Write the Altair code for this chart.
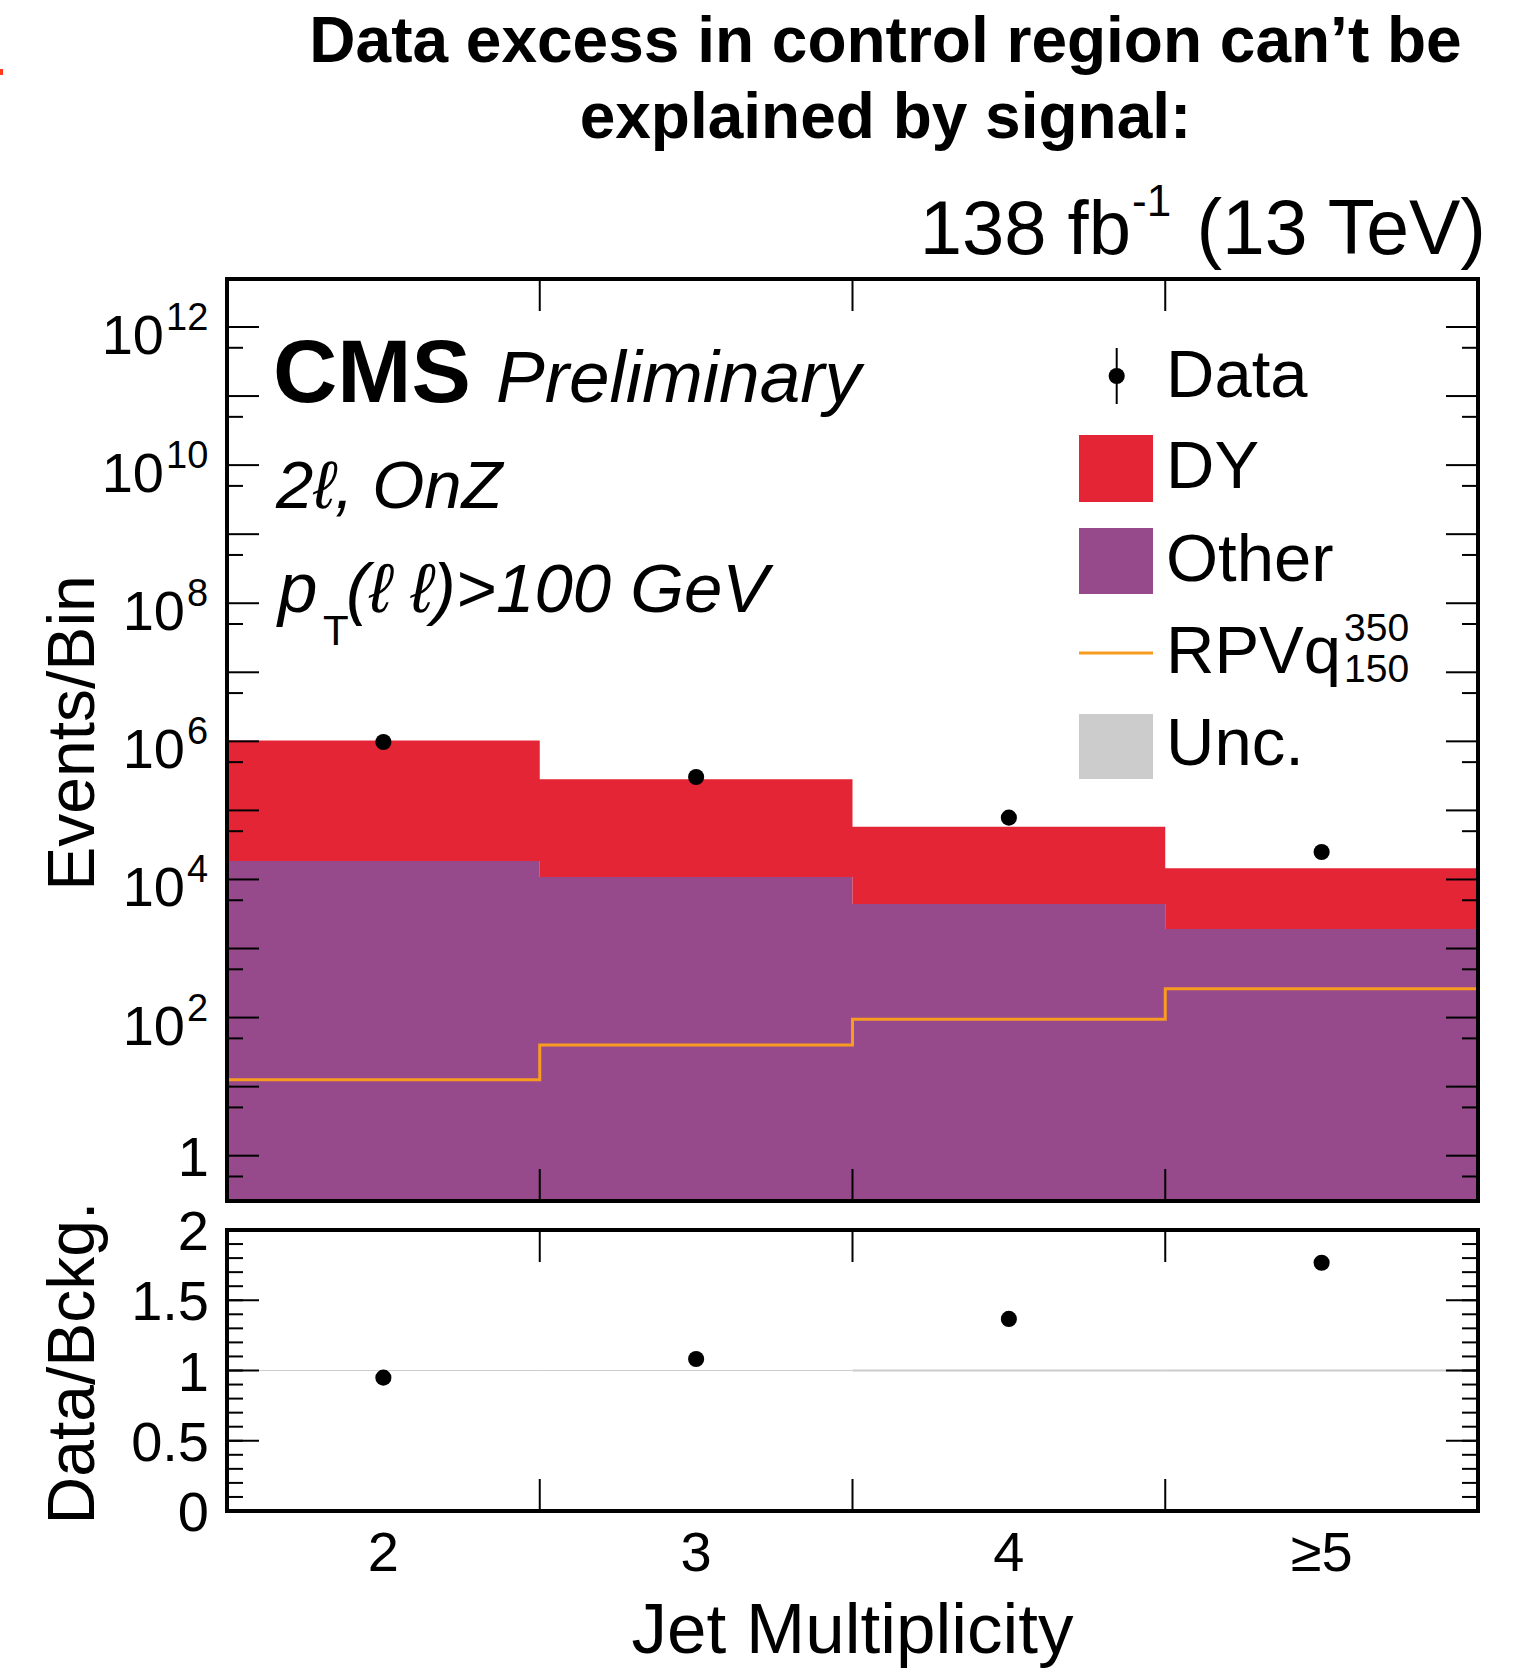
import altair as alt
import pandas as pd
import numpy as np

# ---------------------------------------------------------------
# Jet multiplicity bins
bin_lo = [1.5, 2.5, 3.5, 4.5]
bin_hi = [2.5, 3.5, 4.5, 5.5]
bin_center = [2, 3, 4, 5]
bin_label = ["2", "3", "4", "≥5"]

# Events per bin
other_yield = [1.85e4, 1.09e4, 4.41e3, 1.92e3]
dy_yield = [1.012e6, 2.71e5, 5.37e4, 1.26e4]
signal_yield = [12.6, 40.0, 94.4, 262.0]          # RPV q 350 / 150
data_yield = [9.77e5, 3.04e5, 7.85e4, 2.50e4]

# Lower panel: data / background
ratio_value = [0.949, 1.082, 1.367, 1.767]
unc_rel = [0.004, 0.004, 0.007, 0.008]

# Axis tick values
main_major = [1.0, 1e2, 1e4, 1e6, 1e8, 1e10, 1e12]
main_minor = [5 * 10.0 ** k for k in range(-1, 12)]
main_decades = [10.0 ** k for k in range(13)]
ratio_major = [0, 0.5, 1, 1.5, 2]
ratio_labels = ["0", "0.5", "1", "1.5", "2"]
ratio_minor = [round(0.1 * k, 1) for k in range(21)]
bin_edges = [2.5, 3.5, 4.5]

# Colours
C_DY = "#e42536"
C_OTHER = "#964a8b"
C_SIG = "#f89c20"
C_UNC = "#cccccc"
FONT = "Liberation Sans"

# ---------------------------------------------------------------
# Layout (pixels, relative to the plot origin)
W, H = 1251, 1232
MAIN_BOTTOM = 922
RATIO_TOP = 951
YMIN, YMAX = 10 ** -0.656, 10 ** 12.695
TICK_L, TICK_S = 32, 16

xs = alt.Scale(domain=[1.5, 5.5], nice=False, zero=False)
ys_main = alt.Scale(type="log", domain=[YMIN, YMAX], range=[MAIN_BOTTOM, 0], nice=False)
ys_ratio = alt.Scale(domain=[0, 2], range=[H, RATIO_TOP], nice=False, zero=False)

bins = pd.DataFrame({
    "lo": bin_lo, "hi": bin_hi, "center": bin_center, "label": bin_label,
    "other": other_yield, "dy": dy_yield, "data": data_yield,
    "ratio": ratio_value, "unc": unc_rel,
})
bins["total"] = bins["other"] + bins["dy"]
bins["data_lo"] = bins["data"] - np.sqrt(bins["data"])
bins["data_hi"] = bins["data"] + np.sqrt(bins["data"])
bins["r_lo"] = bins["ratio"] * (1 - 1 / np.sqrt(bins["data"]))
bins["r_hi"] = bins["ratio"] * (1 + 1 / np.sqrt(bins["data"]))
bins["u_lo"] = 1 - bins["unc"]
bins["u_hi"] = 1 + bins["unc"]

# histogram outlines as step curves (last bin repeated to close the right edge)
steps = pd.DataFrame({
    "x": bin_lo + [bin_hi[-1]],
    "other": other_yield + [other_yield[-1]],
    "total": list(bins["total"]) + [bins["total"].iloc[-1]],
    "signal": signal_yield + [signal_yield[-1]],
})
steps["floor"] = YMIN

one = pd.DataFrame({"k": [0]})


def X(field):
    return alt.X(field, scale=xs, axis=None)


def YM(field):
    return alt.Y(field, scale=ys_main, axis=None)


def YR(field):
    return alt.Y(field, scale=ys_ratio, axis=None)


def text(t, x, y, size, align="left", weight="normal", style="normal", angle=0):
    kw = dict(text=t, align=align, baseline="alphabetic", fontSize=size,
              font=FONT, fontWeight=weight, fontStyle=style, color="black")
    if angle:
        kw["angle"] = angle
    return alt.Chart(one).mark_text(**kw).encode(x=alt.value(x), y=alt.value(y))


layers = []

# ---------------- upper panel: stacked backgrounds ----------------
st = alt.Chart(steps)
layers.append(st.mark_area(interpolate="step-after", color=C_OTHER, opacity=1).encode(
    x=X("x:Q"), y=YM("other:Q"), y2="floor:Q"))
layers.append(st.mark_area(interpolate="step-after", color=C_DY, opacity=1).encode(
    x=X("x:Q"), y=YM("total:Q"), y2="other:Q"))

# signal histogram outline
layers.append(st.mark_line(interpolate="step-after", color=C_SIG, strokeWidth=3).encode(
    x=X("x:Q"), y=YM("signal:Q")))

# data points
base = alt.Chart(bins)
layers.append(base.mark_rule(color="black", strokeWidth=2).encode(
    x=X("center:Q"), y=YM("data_lo:Q"), y2="data_hi:Q"))
layers.append(base.mark_circle(color="black", opacity=1, size=260).encode(
    x=X("center:Q"), y=YM("data:Q")))

# ---------------- lower panel: ratio ----------------
layers.append(base.mark_rect(color=C_UNC).encode(
    x=X("lo:Q"), x2="hi:Q", y=YR("u_lo:Q"), y2="u_hi:Q"))
layers.append(base.mark_rule(color="black", strokeWidth=2).encode(
    x=X("center:Q"), y=YR("r_lo:Q"), y2="r_hi:Q"))
layers.append(base.mark_circle(color="black", opacity=1, size=260).encode(
    x=X("center:Q"), y=YR("ratio:Q")))

# ---------------- inward ticks ----------------
dec = pd.DataFrame({"v": main_decades})
mnr = pd.DataFrame({"v": main_minor})
for df, ln in ((dec, TICK_L), (mnr, TICK_S)):
    layers.append(alt.Chart(df).mark_rule(color="black", strokeWidth=2).encode(
        y=YM("v:Q"), x=alt.value(0), x2=alt.value(ln)))
    layers.append(alt.Chart(df).mark_rule(color="black", strokeWidth=2).encode(
        y=YM("v:Q"), x=alt.value(W), x2=alt.value(W - ln)))

rmaj = pd.DataFrame({"v": ratio_major})
rmin = pd.DataFrame({"v": ratio_minor})
for df, ln in ((rmaj, TICK_L), (rmin, TICK_S)):
    layers.append(alt.Chart(df).mark_rule(color="black", strokeWidth=2).encode(
        y=YR("v:Q"), x=alt.value(0), x2=alt.value(ln)))
    layers.append(alt.Chart(df).mark_rule(color="black", strokeWidth=2).encode(
        y=YR("v:Q"), x=alt.value(W), x2=alt.value(W - ln)))

edges = pd.DataFrame({"e": bin_edges})
for y0, y1 in ((0, TICK_L), (MAIN_BOTTOM, MAIN_BOTTOM - TICK_L),
               (RATIO_TOP, RATIO_TOP + TICK_L), (H, H - TICK_L)):
    layers.append(alt.Chart(edges).mark_rule(color="black", strokeWidth=2).encode(
        x=X("e:Q"), y=alt.value(y0), y2=alt.value(y1)))

# ---------------- frames ----------------
frame_main = pd.DataFrame({"x0": [1.5], "x1": [5.5], "y0": [YMIN], "y1": [YMAX]})
frame_ratio = pd.DataFrame({"x0": [1.5], "x1": [5.5], "y0": [0.0], "y1": [2.0]})
layers.append(alt.Chart(frame_main).mark_rect(
    fillOpacity=0, stroke="black", strokeWidth=4).encode(
    x=X("x0:Q"), x2="x1:Q", y=YM("y0:Q"), y2="y1:Q"))
layers.append(alt.Chart(frame_ratio).mark_rect(
    fillOpacity=0, stroke="black", strokeWidth=4).encode(
    x=X("x0:Q"), x2="x1:Q", y=YR("y0:Q"), y2="y1:Q"))

# ---------------- tick labels ----------------
lab_size, exp_size = 56, 38
main_lab = pd.DataFrame({"v": main_major,
                         "exp": ["" if v == 1 else str(int(round(np.log10(v)))) for v in main_major]})
main_lab["n"] = main_lab["exp"].str.len()
for n in (0, 1, 2):
    sub = main_lab[main_lab["n"] == n]
    if n == 0:
        layers.append(alt.Chart(sub).mark_text(
            text="1", align="right", baseline="alphabetic", dy=20,
            fontSize=lab_size, font=FONT, color="black").encode(
            y=YM("v:Q"), x=alt.value(-18)))
        continue
    x_base = -19 - 21 * n - 2
    layers.append(alt.Chart(sub).mark_text(
        text="10", align="right", baseline="alphabetic", dy=27,
        fontSize=lab_size, font=FONT, color="black").encode(
        y=YM("v:Q"), x=alt.value(x_base)))
    layers.append(alt.Chart(sub).mark_text(
        align="left", baseline="alphabetic", dy=3,
        fontSize=exp_size, font=FONT, color="black").encode(
        y=YM("v:Q"), x=alt.value(x_base + 2), text="exp:N"))

ratio_lab = pd.DataFrame({"v": ratio_major, "t": ratio_labels})
layers.append(alt.Chart(ratio_lab).mark_text(
    align="right", baseline="alphabetic", dy=20,
    fontSize=lab_size, font=FONT, color="black").encode(
    y=YR("v:Q"), x=alt.value(-18), text="t:N"))

layers.append(base.mark_text(
    align="center", baseline="alphabetic", fontSize=lab_size,
    font=FONT, color="black").encode(
    x=X("center:Q"), y=alt.value(1292), text="label:N"))

# ---------------- axis titles ----------------
layers.append(text("Events/Bin", -133, 454, 66, align="center", angle=270))
layers.append(text("Data/Bckg.", -133, 1084, 66, align="center", angle=270))
layers.append(text("Jet Multiplicity", 625.5, 1374, 71, align="center"))

# ---------------- headline and labels ----------------
layers.append(text("Data excess in control region can\u2019t be", 658.5, -217, 64,
                   align="center", weight="bold"))
layers.append(text("explained by signal:", 658.5, -141, 64, align="center", weight="bold"))
layers.append(text("138 fb", 904, -25, 76, align="right"))
layers.append(text("-1", 905, -63, 44))
layers.append(text("(13 TeV)", 1259, -25, 77, align="right"))

layers.append(text("CMS", 46, 123, 89, weight="bold"))
layers.append(text("Preliminary", 269, 123, 73, style="italic"))
layers.append(text("2\u2113, OnZ", 49, 229, 67, style="italic"))
layers.append(text("p", 51, 333, 71, style="italic"))
layers.append(text("T", 96, 366, 42))
layers.append(text("(\u2113 \u2113)>100 GeV", 119, 333, 69, style="italic"))

# small red mark at the far left edge
layers.append(alt.Chart(one).mark_rect(color="#ff3b1f").encode(
    x=alt.value(-227), x2=alt.value(-224), y=alt.value(-210), y2=alt.value(-204)))

# ---------------- legend ----------------
LX0, LX1 = 852, 926
LTX = 939
layers.append(alt.Chart(one).mark_rule(color="black", strokeWidth=2).encode(
    x=alt.value(889.7), y=alt.value(69), y2=alt.value(125)))
layers.append(alt.Chart(one).mark_circle(color="black", opacity=1, size=260).encode(
    x=alt.value(889.7), y=alt.value(97)))
for (y0, y1, col) in ((156, 223, C_DY), (249, 315, C_OTHER), (435, 500, C_UNC)):
    layers.append(alt.Chart(one).mark_rect(color=col).encode(
        x=alt.value(LX0), x2=alt.value(LX1), y=alt.value(y0), y2=alt.value(y1)))
layers.append(alt.Chart(one).mark_rule(color=C_SIG, strokeWidth=3).encode(
    x=alt.value(LX0), x2=alt.value(LX1), y=alt.value(374)))
for t, yb in (("Data", 118), ("DY", 209), ("Other", 302), ("RPVq", 394), ("Unc.", 486)):
    layers.append(text(t, LTX, yb, 67))
layers.append(text("350", 1117, 362, 39))
layers.append(text("150", 1117, 403, 39))

chart = alt.layer(*layers).resolve_scale(y="independent").properties(
    width=W, height=H,
    padding={"left": 227, "top": 279, "right": 44, "bottom": 161},
    autosize=alt.AutoSizeParams(type="none"),
    background="white",
).configure_view(strokeWidth=0)

chart.save("out.html", embed_options={"renderer": "svg", "actions": False})
